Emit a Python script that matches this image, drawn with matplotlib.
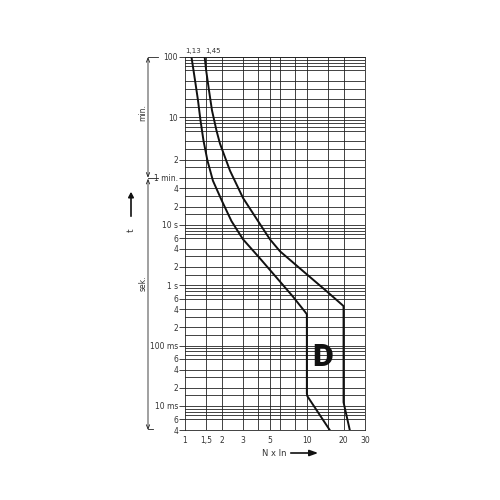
import numpy as np
import matplotlib
matplotlib.use("Agg")
import matplotlib.pyplot as plt
import matplotlib.transforms as mtransforms

# tripping curve D, t in seconds
lower_x = [1.13, 1.208, 1.278, 1.340, 1.418, 1.529, 1.696, 2.010, 2.405, 2.988, 4.12, 6.01, 7.68,
           9.63, 10.0, 10.0, 10.1, 15.4]
lower_t = [6000, 2482, 1152, 534.8, 248.2, 115.2, 53.48, 24.82, 11.52, 5.768, 2.78, 1.15, 0.648,
           0.365, 0.33, 0.016, 0.0145, 0.004]
upper_x = [1.45, 1.49, 1.573, 1.665, 1.812, 1.936, 2.34, 2.99, 4.12, 4.97, 6.01, 10.0, 14.6,
           19.4, 20.0, 20.0, 22.5]
upper_t = [6000, 3650, 1690, 785, 364.8, 221, 78.6, 27.9, 10.3, 5.77, 3.65, 1.51, 0.787,
           0.476, 0.45, 0.0115, 0.004]

x_ticks = [1, 1.5, 2, 3, 5, 10, 20, 30]
x_labels = ["1", "1,5", "2", "3", "5", "10", "20", "30"]
x_grid = [1.5, 2, 3, 4, 5, 6, 8, 10, 15, 20]

y_ticks = [6000, 600, 120, 60, 40, 20, 10, 6, 4, 2, 1, 0.6, 0.4, 0.2, 0.1,
           0.06, 0.04, 0.02, 0.01, 0.006, 0.004]
y_labels = ["100", "10", "2", "1 min.", "4", "2", "10 s", "6", "4", "2", "1 s",
            "6", "4", "2", "100 ms", "6", "4", "2", "10 ms", "6", "4"]

mant = [1, 1.5, 2, 3, 4, 6, 7, 8, 9]
y_grid = set()
for k in range(-3, 2):
    for m in mant:
        v = m * 10.0 ** k
        if 0.004 <= v <= 60:
            y_grid.add(round(v, 6))
for k in range(0, 2):
    for m in mant:
        y_grid.add(m * 10 ** k * 60)
y_grid.add(6000)

plt.rcParams['font.family'] = ['DejaVu Sans']

fig = plt.figure(figsize=(5, 5), dpi=100)
ax = fig.add_axes([0.37, 0.14, 0.36, 0.746])
ax.set_xscale("log")
ax.set_yscale("log")
ax.set_xlim(1, 30)
ax.set_ylim(0.004, 6000)

gc = "#222222"
tc = "#333333"
for v in x_grid:
    ax.axvline(v, color=gc, lw=0.6)
for v in y_grid:
    ax.axhline(v, color=gc, lw=0.6)
for s in ax.spines.values():
    s.set_linewidth(0.6)
    s.set_color(gc)

ax.plot(lower_x, lower_t, color="#111111", lw=1.4)
ax.plot(upper_x, upper_t, color="#111111", lw=1.4)

ax.xaxis.set_minor_locator(matplotlib.ticker.NullLocator())
ax.yaxis.set_minor_locator(matplotlib.ticker.NullLocator())
ax.set_xticks(x_ticks)
ax.set_xticklabels(x_labels)
ax.set_yticks(y_ticks)
ax.set_yticklabels(y_labels)
ax.tick_params(axis="x", length=0, pad=4, labelsize=5.5, labelcolor=tc)
ax.tick_params(axis="y", length=4, width=0.6, color=gc, pad=1, labelsize=5.5, labelcolor=tc)

ax.text(13.5, 0.065, "D", family=["Roboto", "DejaVu Sans"], fontsize=23, fontweight="black",
        ha="center", va="center", color="#111111")
ax.text(1.17, 6000 * 1.12, "1,13", fontsize=5, ha="center", va="bottom", color=tc)
ax.text(1.47, 6000 * 1.12, "1,45", fontsize=5, ha="left", va="bottom", color=tc)

# left annotations
tr = mtransforms.blended_transform_factory(ax.transAxes, ax.transData)
xa = (148 - 185) / 180.0
xt = (158 - 185) / 180.0
ax.annotate("", xy=(xa, 6000), xytext=(xa, 60), xycoords=tr, textcoords=tr,
            arrowprops=dict(arrowstyle="<->,head_length=0.3,head_width=0.12", lw=0.6, color=gc,
                            shrinkA=0, shrinkB=0), annotation_clip=False)
ax.annotate("", xy=(xa, 58), xytext=(xa, 0.004), xycoords=tr, textcoords=tr,
            arrowprops=dict(arrowstyle="<->,head_length=0.3,head_width=0.12", lw=0.6, color=gc,
                            shrinkA=0, shrinkB=0), annotation_clip=False)
for yv in [6000, 60]:
    ax.plot([xa, xt], [yv, yv], transform=tr, color=gc, lw=0.6, clip_on=False)
ax.plot([xa, (153 - 185) / 180.0], [0.0042, 0.0042], transform=tr, color=gc, lw=0.6, clip_on=False)

fig.text(143 / 500, 1 - 113 / 500, "min.", rotation=90, fontsize=5.5, ha="center", va="center",
         color=tc)
fig.text(143 / 500, 1 - 283 / 500, "sek.", rotation=90, fontsize=5.5, ha="center", va="center",
         color=tc)
fig.text(131 / 500, 1 - 230 / 500, "t", rotation=90, fontsize=6.5, ha="center", va="center",
         color=tc)
fig.patches.append(matplotlib.patches.FancyArrowPatch(
    (131 / 500, 1 - 219 / 500), (131 / 500, 1 - 189 / 500), transform=fig.transFigure,
    arrowstyle="-|>,head_length=3,head_width=1.6", lw=1.2, color="#111111", mutation_scale=1))

fig.text(274 / 500, 1 - 453 / 500, "N x In", fontsize=6, ha="center", va="center", color=tc)
fig.patches.append(matplotlib.patches.FancyArrowPatch(
    (288 / 500, 1 - 453 / 500), (321 / 500, 1 - 453 / 500), transform=fig.transFigure,
    arrowstyle="-|>,head_length=5,head_width=1.8", lw=1.2, color="#111111", mutation_scale=1))

fig.savefig("out.png", dpi=100, facecolor="white")
